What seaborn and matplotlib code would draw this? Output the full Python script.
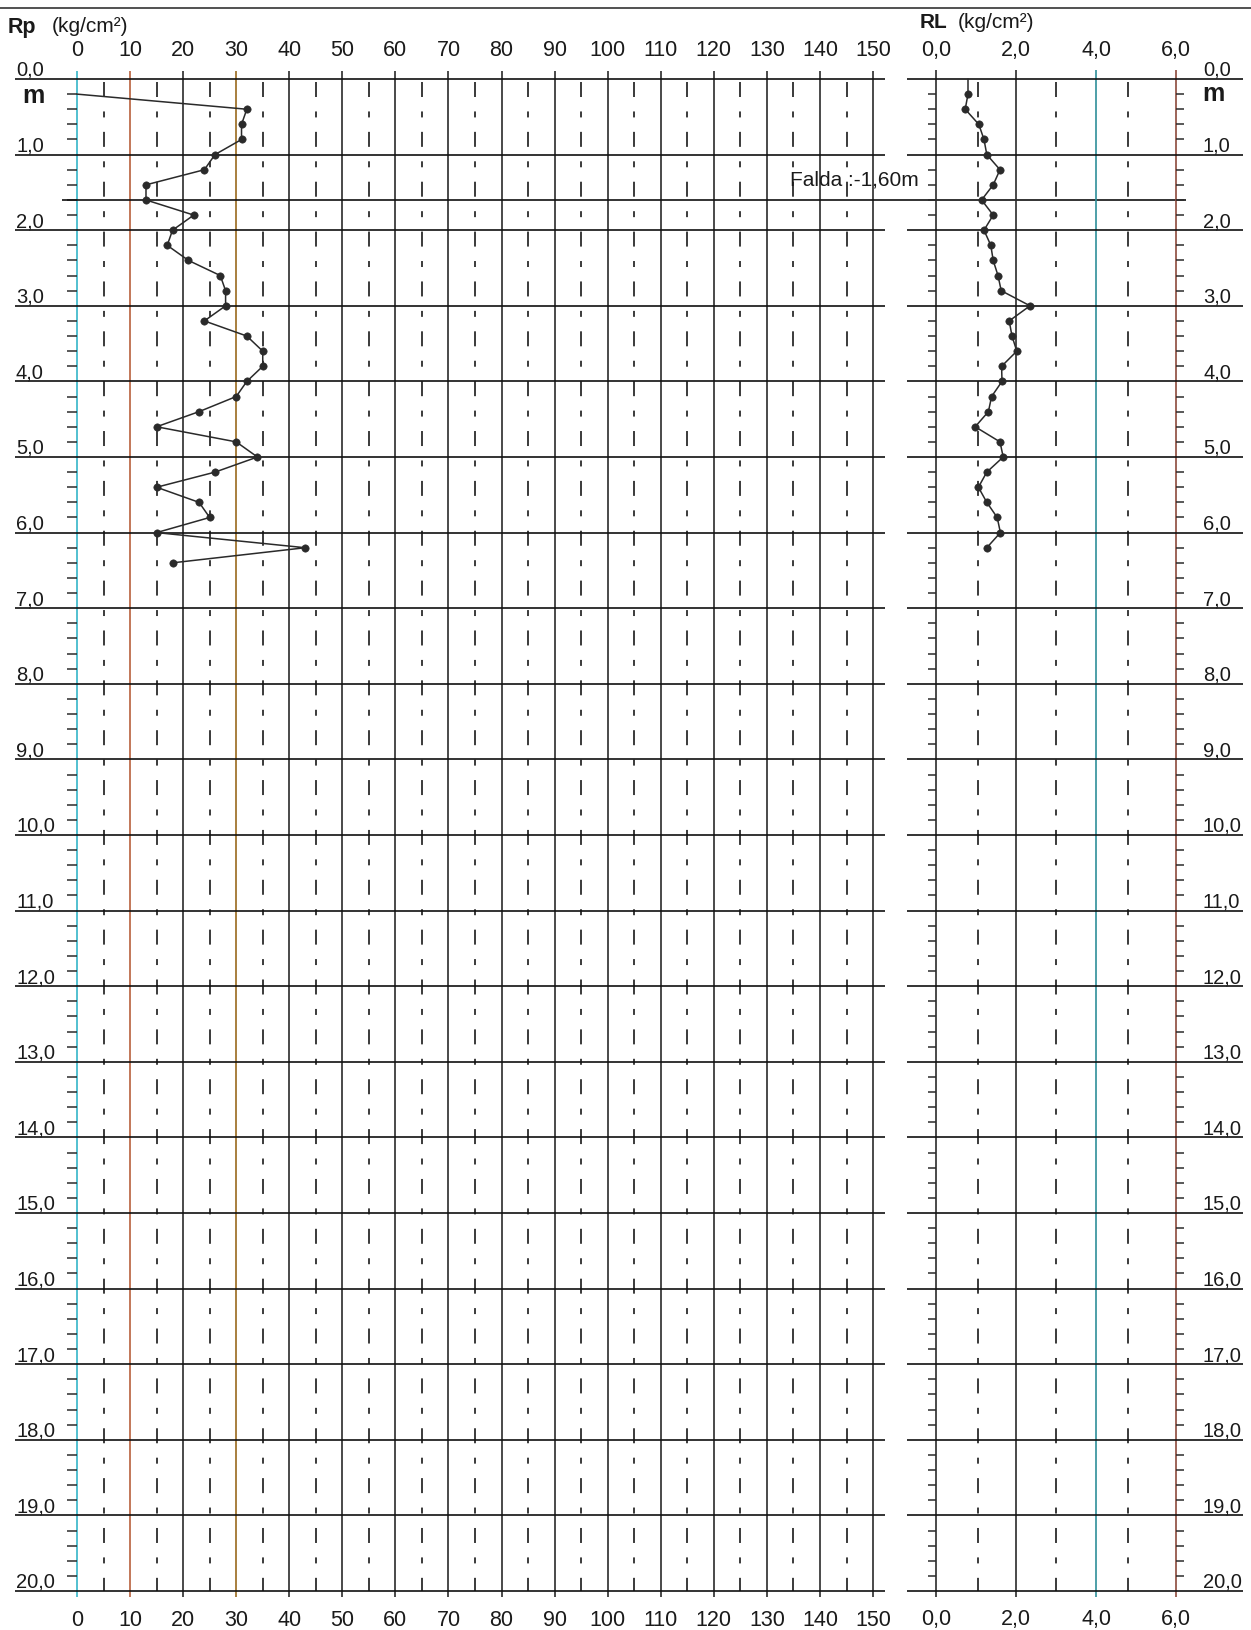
import numpy as np
import pandas as pd
import seaborn as sns
import matplotlib.pyplot as plt

# --- data ---
rp_depth = [0.2, 0.4, 0.6, 0.8, 1.0, 1.2, 1.4, 1.6, 1.8, 2.0, 2.2, 2.4, 2.6, 2.8, 3.0, 3.2,
            3.4, 3.6, 3.8, 4.0, 4.2, 4.4, 4.6, 4.8, 5.0, 5.2, 5.4, 5.6, 5.8, 6.0, 6.2, 6.4]
rp_value = [0, 32, 31, 31, 26, 24, 13, 13, 22, 18, 17, 21, 27, 28, 28, 24,
            32, 35, 35, 32, 30, 23, 15, 30, 34, 26, 15, 23, 25, 15, 43, 18]

rl_depth = [0.0, 0.2, 0.4, 0.6, 0.8, 1.0, 1.2, 1.4, 1.6, 1.8, 2.0, 2.2, 2.4, 2.6, 2.8, 3.0,
            3.2, 3.4, 3.6, 3.8, 4.0, 4.2, 4.4, 4.6, 4.8, 5.0, 5.2, 5.4, 5.6, 5.8, 6.0, 6.2]
rl_value = [0.8, 0.8, 0.73, 1.07, 1.2, 1.27, 1.6, 1.43, 1.14, 1.43, 1.2, 1.37, 1.43, 1.55, 1.63, 2.35,
            1.83, 1.9, 2.02, 1.64, 1.65, 1.39, 1.31, 0.98, 1.6, 1.68, 1.27, 1.06, 1.27, 1.53, 1.61, 1.27]

rp_ticks = list(range(0, 160, 10))
rl_ticks = [0, 2, 4, 6]
rl_tick_labels = ["0,0", "2,0", "4,0", "6,0"]
depth_ticks = list(range(0, 21))
depth_labels = [f"{d},0" for d in depth_ticks]
water_depth = 1.6
water_label = "Falda :-1,60m"

rp_df = pd.DataFrame({"depth": rp_depth, "rp": rp_value})
rl_df = pd.DataFrame({"depth": rl_depth, "rl": rl_value})

sns.set_style("white")
plt.rcParams["font.family"] = ["Liberation Sans", "DejaVu Sans"]
plt.rcParams["lines.scale_dashes"] = False

W, H = 1251, 1630
fig = plt.figure(figsize=(W / 100, H / 100), dpi=100)

# pixel geometry of the sheet
y0px, mpx = 79.0, 75.6          # depth 0 row, px per metre
dtop, dbot = -0.12, 20.12
ytop_px, ybot_px = y0px + dtop * mpx, y0px + dbot * mpx

def place(x_left, x_right):
    return [x_left / W, 1 - ybot_px / H, (x_right - x_left) / W, (ybot_px - ytop_px) / H]

ax1 = fig.add_axes(place(15, 885))
ax2 = fig.add_axes(place(907, 1243))
rp_x0, rp_u = 77.0, 5.307
rl_x0, rl_u = 936.0, 40.0
ax1.set_xlim((15 - rp_x0) / rp_u, (885 - rp_x0) / rp_u)
ax2.set_xlim((907 - rl_x0) / rl_u, (1243 - rl_x0) / rl_u)

dashdot = (0, (10.8, 10.4, 4.3, 10.4))
grid_col = "#2b2b2b"
txt_col = "#1a1a1a"

# ---- left panel grid ----
left_colors = {0: "#35b5c8", 10: "#b8603c", 30: "#9a6a1e"}
for v in rp_ticks:
    ax1.vlines(v, -0.1, 20.08, color=left_colors.get(v, grid_col), lw=1.2)
for v in range(5, 150, 10):
    ax1.vlines(v, 0.04, 20.0, color=grid_col, lw=1.3, linestyles=[dashdot])
ax1.hlines(depth_ticks, *ax1.get_xlim(), color="#111111", lw=1.2)
minor = [round(d * 0.2, 1) for d in range(1, 100) if d % 5 != 0]
ax1.hlines(minor, -1.9, 0, color=grid_col, lw=1.1)
ax1.hlines(water_depth, -2.83, (1186 - rp_x0) / rp_u, color="#111111", lw=1.2, clip_on=False)

# ---- right panel grid ----
right_colors = {4: "#2f8f9a", 6: "#8c4a3c"}
for v in rl_ticks:
    ax2.vlines(v, -0.12, 20.08, color=right_colors.get(v, grid_col), lw=1.2)
for v in [1.05, 3.0, 4.8]:
    ax2.vlines(v, 0.04, 20.0, color=grid_col, lw=1.3, linestyles=[dashdot])
ax2.hlines(depth_ticks, *ax2.get_xlim(), color="#111111", lw=1.2)
ax2.hlines(minor, -0.2, 0, color=grid_col, lw=1.1)
ax2.hlines(minor, 6, 6.2, color=grid_col, lw=1.1)

# ---- data ----
sns.lineplot(data=rp_df, x="rp", y="depth", orient="y", sort=False, ax=ax1,
             color="#2a2a2a", lw=1.1, estimator=None)
sns.scatterplot(data=rp_df.iloc[1:], x="rp", y="depth", ax=ax1, color="#2a2a2a",
                s=28, edgecolor="#2a2a2a", zorder=5, legend=False)
sns.lineplot(data=rl_df, x="rl", y="depth", orient="y", sort=False, ax=ax2,
             color="#2a2a2a", lw=1.1, estimator=None)
sns.scatterplot(data=rl_df.iloc[1:], x="rl", y="depth", ax=ax2, color="#2a2a2a",
                s=28, edgecolor="#2a2a2a", zorder=5, legend=False)
for ax in (ax1, ax2):
    ax.set_ylim(dbot, dtop)
    ax.axis("off")

# ---- labels ----
ytop_lab = (50 - y0px) / mpx
ybot_lab = (1620 - y0px) / mpx
for v in rp_ticks:
    ax1.text(v, ytop_lab, str(v), ha="center", va="center", fontsize=15.5, color=txt_col)
    ax1.text(v, ybot_lab, str(v), ha="center", va="center", fontsize=15.5, color=txt_col)
for v, lab in zip(rl_ticks, rl_tick_labels):
    ax2.text(v, ytop_lab, lab, ha="center", va="center", fontsize=15.5, color=txt_col)
    ax2.text(v, ybot_lab, lab, ha="center", va="center", fontsize=15.5, color=txt_col)

xl = (16 - rp_x0) / rp_u
xr = (1203 - rl_x0) / rl_u
for d, lab in zip(depth_ticks, depth_labels):
    ax1.text(xl, d - 0.04, lab, ha="left", va="baseline", fontsize=14.5, color=txt_col)
    ax2.text(xr, d - 0.04, lab, ha="left", va="baseline", fontsize=14.5, color=txt_col)
# unit mark under the 0,0 labels (top of glyph just below the 0 line)
ax1.text((22 - rp_x0) / rp_u, (84 - y0px) / mpx, "m", ha="left", va="top",
         fontsize=18, fontweight="bold", color=txt_col)
ax2.text((1202 - rl_x0) / rl_u, (82 - y0px) / mpx, "m", ha="left", va="top",
         fontsize=18, fontweight="bold", color=txt_col)

ax1.text((790 - rp_x0) / rp_u, (180 - y0px) / mpx, water_label, ha="left", va="center",
         fontsize=15, color=txt_col)

fig.text(8 / W, 1 - 27 / H, "Rp", ha="left", va="center", fontsize=15.5, fontweight="bold", color=txt_col)
fig.text(52 / W, 1 - 26 / H, "(kg/cm²)", ha="left", va="center", fontsize=15, color=txt_col)
fig.text(920 / W, 1 - 22 / H, "RL", ha="left", va="center", fontsize=15, fontweight="bold", color=txt_col)
fig.text(958 / W, 1 - 22 / H, "(kg/cm²)", ha="left", va="center", fontsize=15, color=txt_col)

# page border line at the top
fig.add_artist(plt.Line2D([0, 1], [1 - 8 / H, 1 - 8 / H], color="#333333", lw=1.2))

fig.savefig("out.png", dpi=100)
